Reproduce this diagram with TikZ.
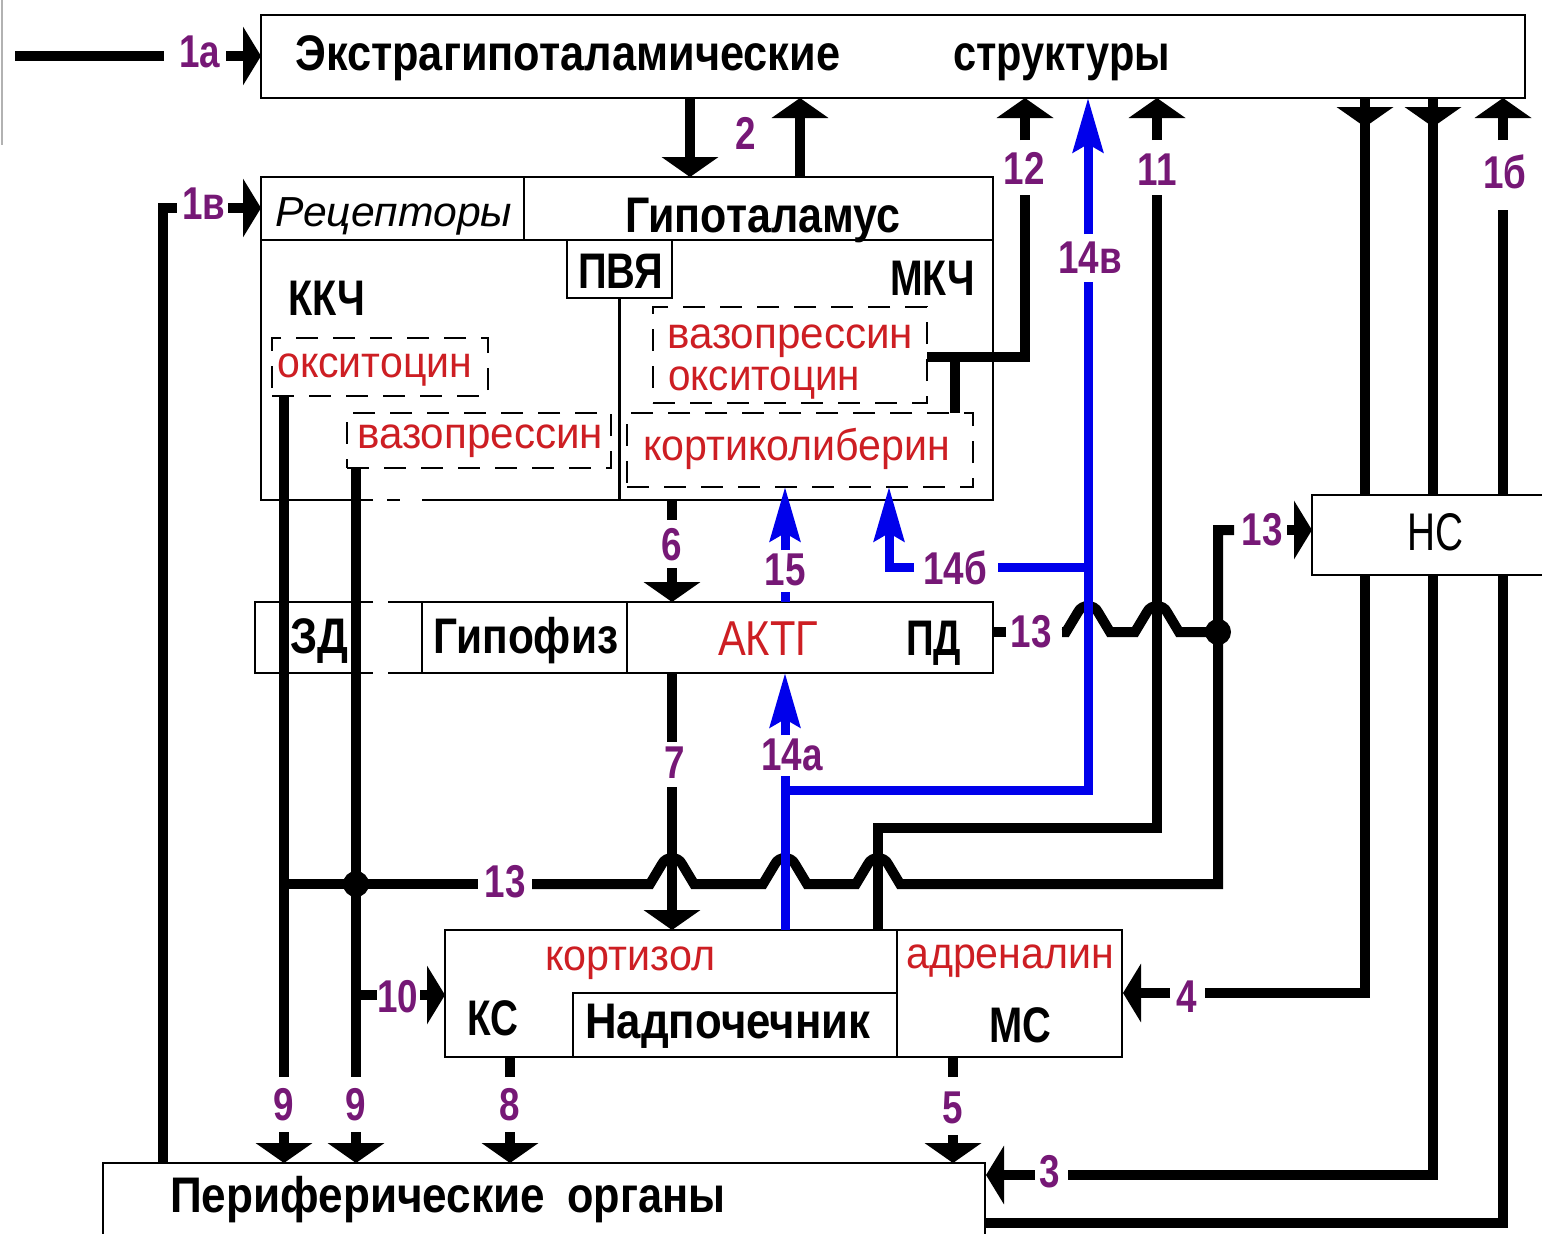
\documentclass[tikz,border=0pt]{standalone}
\usepackage{fontspec}
\setmainfont{Liberation Sans}
\newfontfamily\labfont[FakeStretch=0.8]{Liberation Sans}
\usetikzlibrary{arrows.meta}
\definecolor{labc}{RGB}{118,24,118}
\definecolor{redc}{RGB}{205,30,35}
\definecolor{bluec}{RGB}{0,0,235}
\newcommand\fitw[2]{\resizebox{#1pt}{\height}{#2}}
\begin{document}
\begin{tikzpicture}[x=1pt,y=-1pt,line join=miter,
  frame/.style={line width=2.5pt},
  dbox/.style={draw, line width=2.5pt, dash pattern=on 22pt off 15pt, inner sep=0pt, outer sep=0pt, anchor=north west},
  bx/.style={inner sep=0pt, outer sep=0pt, anchor=north west},
  conn/.style={line width=10pt},
  arv/.style={line width=10pt, -{Triangle[width=56pt,length=20pt]}},
  arh/.style={line width=10pt, -{Triangle[width=58pt,length=18pt]}},
  bconn/.style={line width=9pt, draw=bluec},
  barr/.style={line width=9pt, draw=bluec, -{Stealth[width=30pt,length=54pt,inset=8pt]}},
  bt/.style={inner sep=0pt, anchor=base west, font=\fontsize{50}{50}\selectfont\bfseries},
  rt/.style={inner sep=0pt, anchor=base west, text=redc, font=\fontsize{44}{44}\selectfont},
  lb/.style={inner sep=0pt, text=labc, font=\labfont\fontsize{46}{46}\selectfont\bfseries},
  dot/.style={circle, fill, inner sep=0pt, minimum size=26pt},
]
\fill[white] (0,0) rectangle (1542,1234);
\useasboundingbox (0,0) rectangle (1542,1234);
\draw[black!30, line width=2pt] (2,0) -- (2,145);

% ---------- top box
\node[bx, draw, line width=2.5pt, fill=white, minimum width=1264pt, minimum height=83pt] (ext) at (261,15) {};
\node[bt] (t1) at (295,70) {\fitw{545}{Экстрагипоталамические}};
\node[bt] (t2) at (953,70) {\fitw{217}{структуры}};

% ---------- hypothalamus
\node[bx, minimum width=732pt, minimum height=323pt] (hyp) at (261,177) {};
\draw[frame] (373,500) -- (hyp.south west) -- (hyp.north west) -- (hyp.north east) -- (hyp.south east) -- (422,500);
\draw[frame] (387,500) -- (400,500);
\draw[frame] (261,240) -- (993,240);
\draw[frame] (524,177) -- (524,240);
\node[bx, draw, line width=2.5pt, minimum width=105pt, minimum height=58pt] (pvy) at (567,240) {};
\draw[frame] (pvy.south) -- (619.5,500);
\node[inner sep=0pt, anchor=base west, font=\fontsize{42}{42}\selectfont\itshape] (rec) at (275,226) {\fitw{237}{Рецепторы}};
\node[bt] (gip) at (625,232) {\fitw{275}{Гипоталамус}};
\node[bt] (kkch) at (288,315) {\fitw{77}{ККЧ}};
\node[bt] (pvyt) at (578,288) {\fitw{85}{ПВЯ}};
\node[bt] (mkch) at (890,295) {\fitw{85}{МКЧ}};

\node[dbox, minimum width=216pt, minimum height=58pt] (d1) at (272,338) {};
\node[rt] (r1) at (277,377) {\fitw{195}{окситоцин}};
\node[dbox, minimum width=264pt, minimum height=55pt] (d2) at (347,413) {};
\node[rt] (r2) at (357,448) {\fitw{246}{вазопрессин}};
\node[dbox, minimum width=274pt, minimum height=96pt] (d3) at (653,307) {};
\node[rt] (r3) at (667,348) {\fitw{246}{вазопрессин}};
\node[rt] (r4) at (668,390) {\fitw{192}{окситоцин}};
\node[dbox, minimum width=346pt, minimum height=74pt] (d4) at (627,413) {};
\node[rt] (r5) at (643,460) {\fitw{307}{кортиколиберин}};

% ---------- hypophysis
\node[bx, minimum width=738pt, minimum height=71pt] (hph) at (255,602) {};
\draw[frame] (373,602) -- (hph.north west) -- (hph.south west) -- (373,673);
\draw[frame] (388,602) -- (hph.north east) -- (hph.south east) -- (388,673);
\draw[frame] (422,602) -- (422,673);
\draw[frame] (627,602) -- (627,673);
\node[bt] (zd) at (290,653) {\fitw{58}{ЗД}};
\node[bt] (gpf) at (433,653) {\fitw{185}{Гипофиз}};
\node[rt, font=\fontsize{49}{49}\selectfont] (aktg) at (718,655) {\fitw{100}{АКТГ}};
\node[bt] (pd) at (906,655) {\fitw{55}{ПД}};

% ---------- adrenal
\node[bx, draw, line width=2.5pt, minimum width=677pt, minimum height=127pt] (adr) at (445,930) {};
\draw[frame] (897,930) -- (897,1057);
\node[bx, draw, line width=2.5pt, minimum width=324pt, minimum height=64pt] (nad) at (573,993) {};
\node[rt] (kort) at (545,970) {\fitw{170}{кортизол}};
\node[rt] (adrn) at (906,968) {\fitw{208}{адреналин}};
\node[bt] (ks) at (467,1035) {\fitw{51}{КС}};
\node[bt] (nadt) at (585,1038) {\fitw{285}{Надпочечник}};
\node[bt] (ms) at (989,1042) {\fitw{62}{МС}};

% ---------- peripheral organs
\node[bx, minimum width=882pt, minimum height=71pt] (per) at (103,1163) {};
\draw[frame] (103,1240) -- (per.north west) -- (per.north east) -- (985,1240);
\node[bt] (pr1) at (170,1212) {\fitw{375}{Периферические}};
\node[bt] (pr2) at (567,1212) {\fitw{158}{органы}};

% ---------- connectors
% 1a
\coordinate (in1a) at (15,56);
\draw[conn] (in1a) -- (164,56);
\node[lb] (l1a) at (200,52) {1а};
\draw[arh] (226,56) -- (261,56);
% 1v
\draw[conn] (163,1163) -- (163,208) -- (177,208);
\node[lb] (l1v) at (204,204) {1в};
\draw[arh] (228,208) -- (261,208);
% 2
\draw[arv] (690,98) -- (690,177);
\draw[arv] (800,177) -- (800,98);
\node[lb] (l2) at (746,133) {2};
% 12
\draw[conn] (955,413) -- (955,352);
\draw[conn] (927,357) -- (1025,357) -- (1025,195);
\node[lb] (l12) at (1024,168) {12};
\draw[arv] (1025,140) -- (1025,98);
% 11
\draw[arv] (1157,140) -- (1157,98);
\node[lb] (l11) at (1157,170) {11};
\draw[conn] (1157,195) -- (1157,828) -- (878,828) -- (878,930);
% 6
\draw[conn] (672,500) -- (672,520);
\node[lb] (l6) at (672,545) {6};
\draw[arv] (672,568) -- (672,602);
% 7
\draw[conn] (672,673) -- (672,742);
\node[lb] (l7) at (675,763) {7};
\draw[arv] (672,787) -- (672,930);
% 9
\draw[conn] (284,396) -- (284,1077);
\draw[conn] (356,468) -- (356,1077);
\node[lb] (l9a) at (284,1105) {9};
\node[lb] (l9b) at (356,1105) {9};
\draw[arv] (284,1132) -- (284,1163);
\draw[arv] (356,1132) -- (356,1163);
% 10
\draw[conn] (356,995) -- (377,995);
\node[lb] (l10) at (398,997) {10};
\draw[arh] (420,995) -- (445,995);
% 8
\draw[conn] (510,1057) -- (510,1077);
\node[lb] (l8) at (510,1105) {8};
\draw[arv] (510,1132) -- (510,1163);
% 5
\draw[conn] (953,1057) -- (953,1077);
\node[lb] (l5) at (953,1108) {5};
\draw[arv] (953,1135) -- (953,1163);
% 4
\draw[conn] (1365,98) -- (1365,993) -- (1205,993);
\draw[arv] (1365,98) -- (1365,127);
\node[lb] (l4) at (1187,997) {4};
\draw[arh] (1170,993) -- (1123,993);
% 3
\draw[conn] (1433,98) -- (1433,1175) -- (1068,1175);
\draw[arv] (1433,98) -- (1433,127);
\node[lb] (l3) at (1050,1172) {3};
\draw[arh] (1035,1175) -- (986,1175);
% 1b
\draw[arv] (1503,140) -- (1503,98);
\node[lb] (l1b) at (1505,172) {1б};
\draw[conn] (1503,210) -- (1503,1223) -- (985,1223);

% 13 lower line with hops
\draw[conn] (284,884) -- (478,884);
\node[lb] (l13a) at (505,882) {13};
\draw[conn] (532,884) -- (650,884) -- ++(12,-20) .. controls +(4,-8) and +(-4,-8) .. ++(20,0) -- ++(12,20)
  -- (763,884) -- ++(12,-20) .. controls +(4,-8) and +(-4,-8) .. ++(20,0) -- ++(12,20)
  -- (856,884) -- ++(12,-20) .. controls +(4,-8) and +(-4,-8) .. ++(20,0) -- ++(12,20)
  -- (1218,884) -- (1218,530) -- (1234,530);
\node[lb] (l13c) at (1262,530) {13};
% 13 middle line
\draw[conn] (993,632) -- (1006,632);
\node[lb] (l13b) at (1031,632) {13};
\draw[conn] (1062,632) -- (1066,632) -- ++(12,-20) .. controls +(4,-8) and +(-4,-8) .. ++(20,0) -- ++(12,20)
  -- (1135,632) -- ++(12,-20) .. controls +(4,-8) and +(-4,-8) .. ++(20,0) -- ++(12,20)
  -- (1218,632);
\node[dot] (j1) at (356,884) {};
\node[dot] (j2) at (1218,632) {};

% blue connectors
\draw[bconn] (785,930) -- (785,776);
\draw[bconn] (785,790) -- (1088,790) -- (1088,282);
\node[lb] (l14v) at (1090,258) {14в};
\draw[barr] (1088,234) -- (1088,98);
\draw[bconn] (1088,567) -- (998,567);
\node[lb] (l14b) at (955,568) {14б};
\draw[barr] (914,567) -- (889,567) -- (889,487);
\node[lb] (l14a) at (792,755) {14а};
\draw[barr] (785,735) -- (785,673);
\draw[bconn] (785,602) -- (785,592);
\node[lb] (l15) at (785,570) {15};
\draw[barr] (785,550) -- (785,487);

% ---------- NC box on top
\node[bx, fill=white, minimum width=232pt, minimum height=80pt] (nc) at (1312,495) {};
\draw[frame] (1545,495) -- (nc.north west) -- (nc.south west) -- (1545,575);
\node[inner sep=0pt, anchor=base west, font=\fontsize{53}{53}\selectfont] (nct) at (1407,550) {\fitw{56}{НС}};
\draw[arh] (1287,530) -- (nc.west |- 0,530);
\end{tikzpicture}
\end{document}
